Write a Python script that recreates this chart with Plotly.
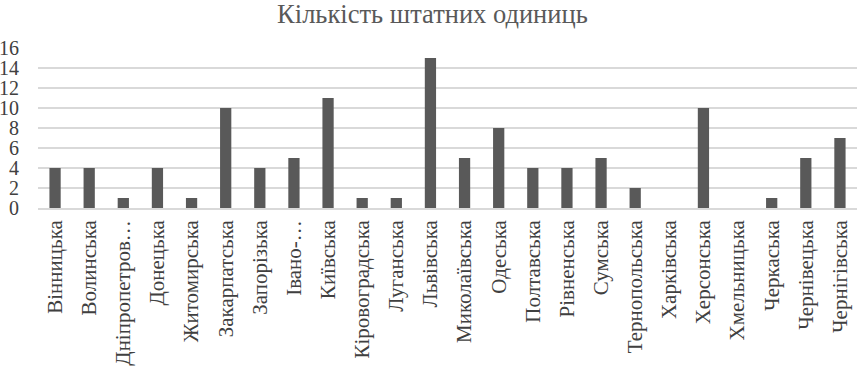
import plotly.graph_objects as go

categories = ["Вінницька", "Волинська", "Дніпропетров…", "Донецька", "Житомирська",
              "Закарпатська", "Запорізька", "Івано-…", "Київська", "Кіровоградська",
              "Луганська", "Львівська", "Миколаївська", "Одеська", "Полтавська",
              "Рівненська", "Сумська", "Тернопольська", "Харківська", "Херсонська",
              "Хмельницька", "Черкаська", "Чернівецька", "Чернігівська"]
values = [4, 4, 1, 4, 1, 10, 4, 5, 11, 1, 1, 15, 5, 8, 4, 4, 5, 2, 0, 10, 0, 1, 5, 7]
y_ticks = [0, 2, 4, 6, 8, 10, 12, 14, 16]

fig = go.Figure(go.Bar(
    x=categories, y=values,
    marker=dict(color="#595959", line=dict(width=0)),
))

font_family = "Liberation Serif"
fig.update_layout(
    width=858, height=367,
    margin=dict(l=38, r=1, t=47, b=159, autoexpand=False),
    paper_bgcolor="white", plot_bgcolor="white",
    bargap=0.67,
    showlegend=False,
    title=dict(text="Кількість штатних одиниць", x=0.504, xanchor="center",
               y=0.962, yanchor="middle",
               font=dict(family=font_family, size=26.5, color="#595959")),
    font=dict(family=font_family, color="#595959"),
)
fig.update_xaxes(
    tickangle=-90, tickfont=dict(family=font_family, size=21, color="#404040"),
    showline=True, linecolor="#d9d9d9", linewidth=1.5, ticks="",
    ticklabelstandoff=2, automargin=False,
)
fig.update_yaxes(
    range=[0, 16.1], tickvals=y_ticks,
    tickfont=dict(family=font_family, size=20, color="#404040"),
    showgrid=True, gridcolor="#d9d9d9", gridwidth=1.5,
    zeroline=False, ticks="", ticklabelstandoff=18, automargin=False,
)
fig.write_html("out.html", config={"displayModeBar": False},
               post_script="document.body.style.margin='0';document.body.style.overflow='hidden';")
